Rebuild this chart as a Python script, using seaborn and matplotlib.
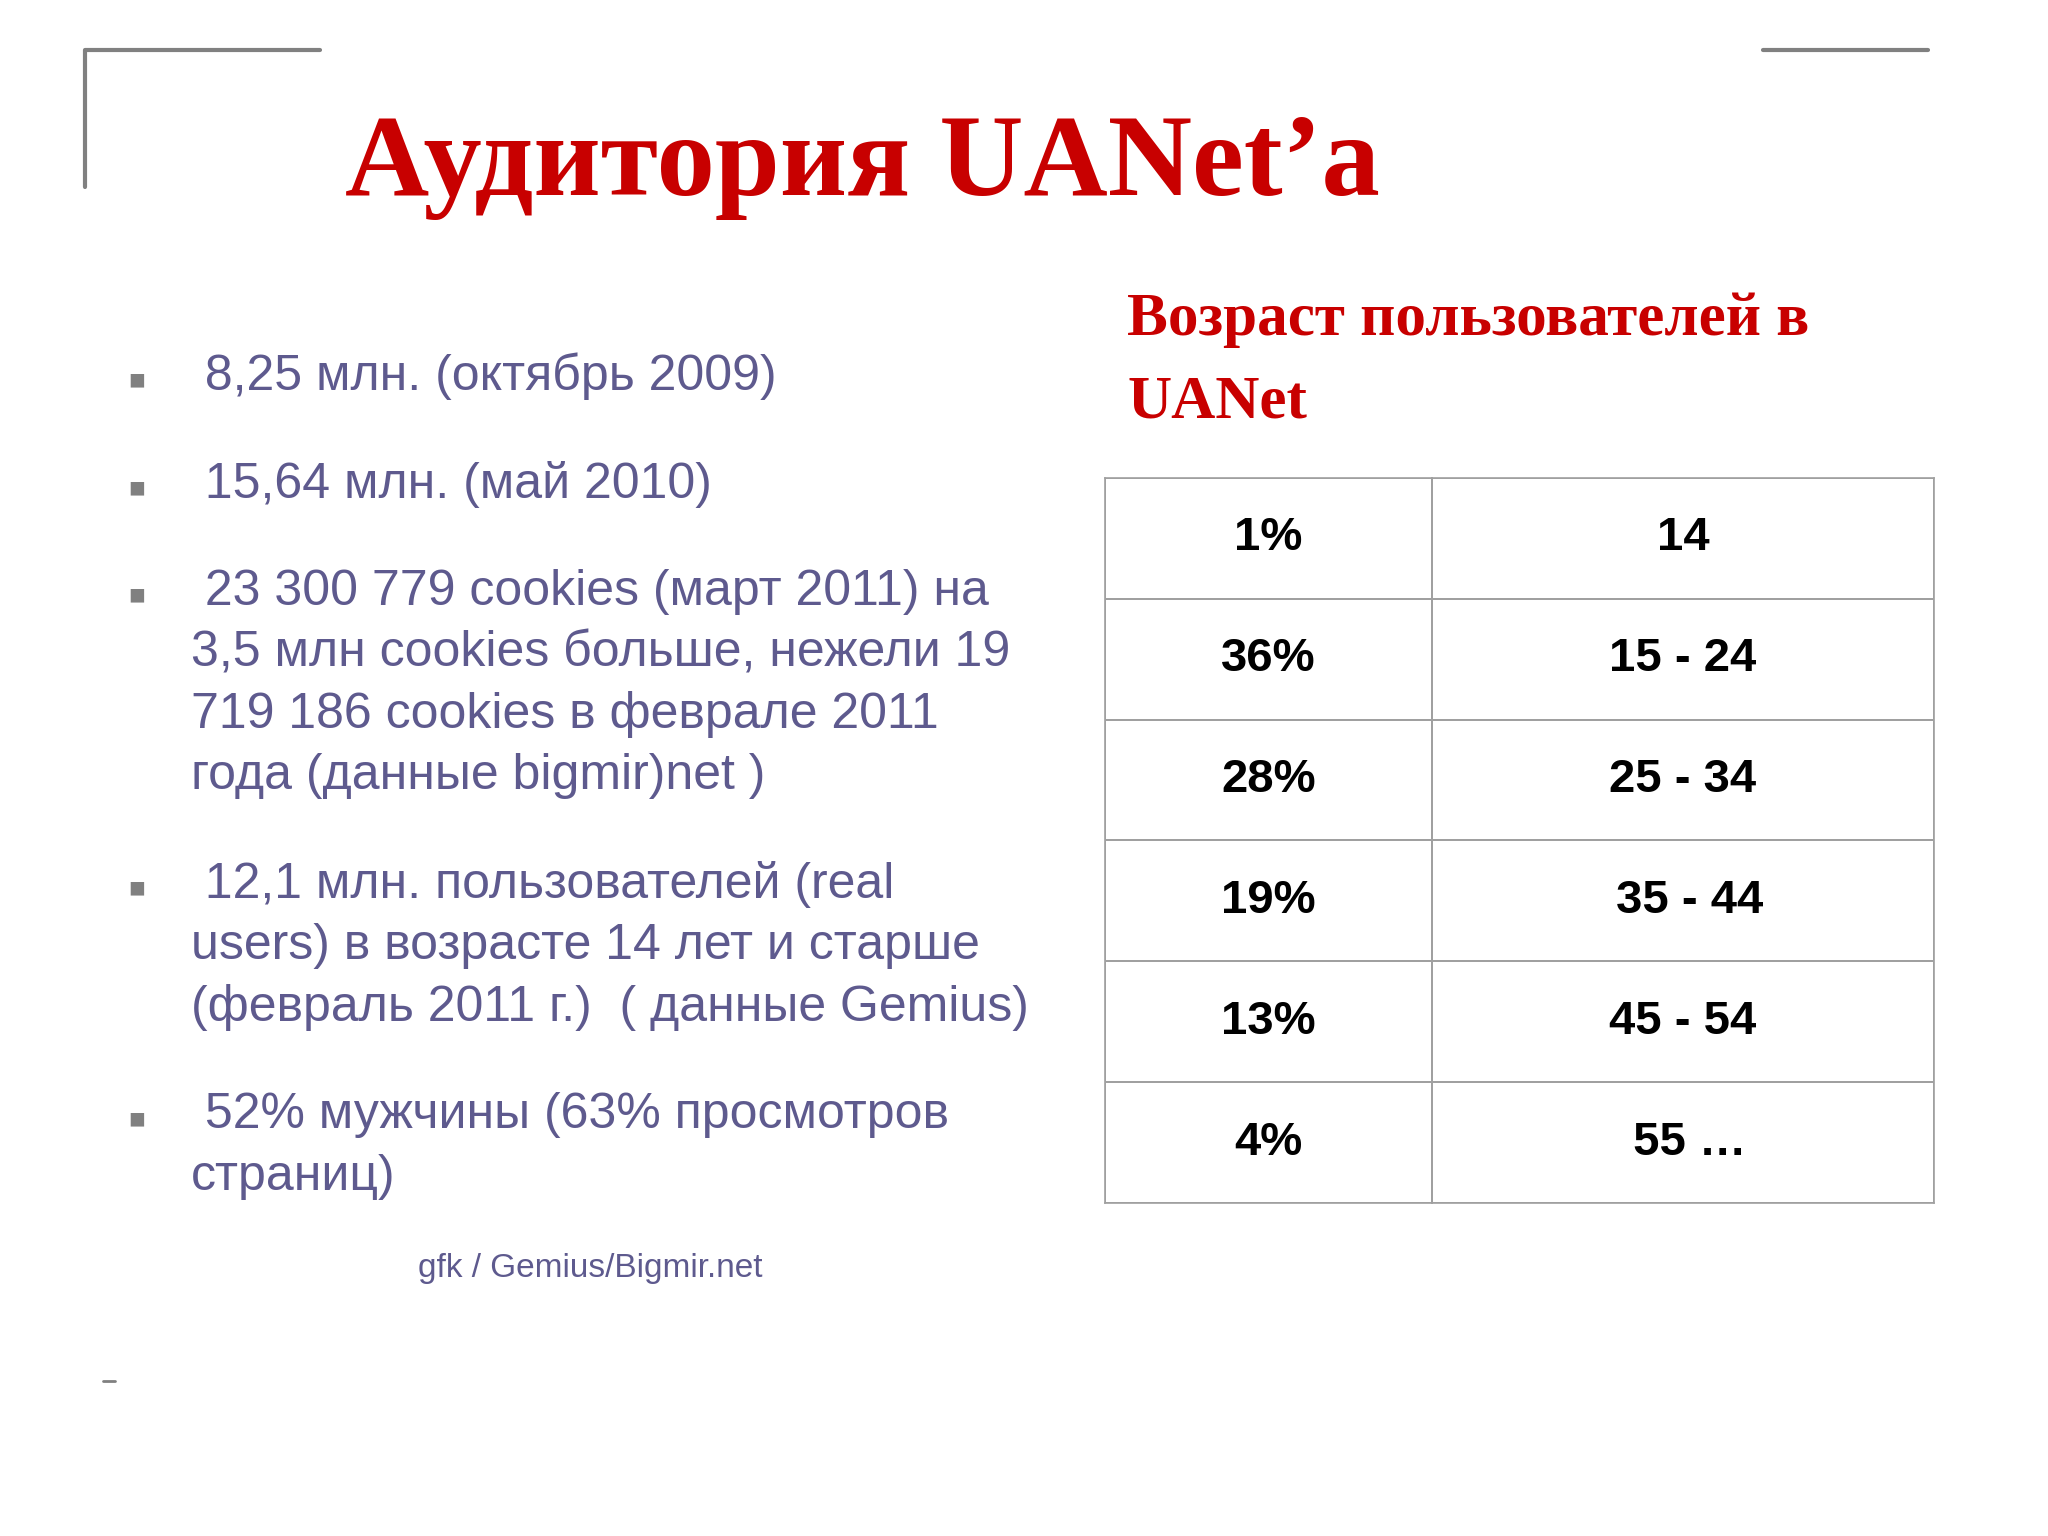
import numpy as np
import matplotlib
matplotlib.use('Agg')
import matplotlib.pyplot as plt
import seaborn as sns

shares = ["1%", "36%", "28%", "19%", "13%", "4%"]
ages = ["14", "15 - 24", "25 - 34", " 35 - 44", "45 - 54", " 55 \u2026"]
bullets = [
    [" 8,25 млн. (октябрь 2009)"],
    [" 15,64 млн. (май 2010)"],
    [" 23 300 779 cookies (март 2011) на", "3,5 млн cookies больше, нежели 19",
     "719 186 cookies в феврале 2011", "года (данные bigmir)net )"],
    [" 12,1 млн. пользователей (real", "users) в возрасте 14 лет и старше",
     "(февраль 2011 г.)  ( данные Gemius)"],
    [" 52% мужчины (63% просмотров", "страниц)"],
]
bullet_y = [288, 371, 453, 677, 854]
subtitle = ["Возраст пользователей в", "UANet"]
source = "gfk / Gemius/Bigmir.net"

W, H = 1568, 1176
fx = lambda x: x / W
fy = lambda y: 1 - y / H

sns.set_style("white")
plt.rcParams['font.family'] = ['Liberation Sans', 'DejaVu Sans']
fig = plt.figure(figsize=(20.48, 15.36), dpi=100)

red = "#C80000"
purple = "#5E5A8E"

fig.text(fx(660), fy(128), "Аудитория UANet\u2019a", ha="center", va="center",
         fontsize=84, fontweight="bold", color=red, family="Liberation Serif")
for i, line in enumerate(subtitle):
    fig.text(fx(863), fy(245 + 63 * i), line, ha="left", va="center",
             fontsize=44, fontweight="bold", color=red, family="Liberation Serif")

for lines, y in zip(bullets, bullet_y):
    fig.text(fx(98), fy(y + 4), "\u25A0", ha="left", va="center", fontsize=20, color="#808080")
    for i, line in enumerate(lines):
        fig.text(fx(146), fy(y + 47 * i), line, ha="left", va="center",
                 fontsize=36, color=purple)
fig.text(fx(320), fy(971), source, ha="left", va="center", fontsize=24, color=purple)

# table as two heatmaps
top, bot = fy(366), fy(921)
cols = [(846, 1096, shares), (1096, 1481, ages)]
for x0, x1, labels in cols:
    ax = fig.add_axes([fx(x0), bot, fx(x1) - fx(x0), top - bot])
    data = np.zeros((len(labels), 1))
    sns.heatmap(data, ax=ax, cmap=["white"], cbar=False, annot=np.array(labels).reshape(-1, 1),
                fmt="", linewidths=1.2, linecolor="#A0A0A0",
                annot_kws={"fontsize": 34, "fontweight": "bold", "color": "black"},
                xticklabels=False, yticklabels=False)
    for s in ax.spines.values():
        s.set_visible(True)
        s.set_color("#A0A0A0")
        s.set_linewidth(1.2)

# slide frame decorations
line_ax = fig.add_axes([0, 0, 1, 1])
line_ax.set_xlim(0, W)
line_ax.set_ylim(H, 0)
line_ax.axis("off")
line_ax.plot([65, 65, 245], [143, 38, 38], color="#808080", lw=3)
line_ax.plot([1350, 1476], [38, 38], color="#808080", lw=3)
line_ax.plot([79, 88], [1057, 1057], color="#808080", lw=2)

fig.savefig("out.png", dpi=100)
